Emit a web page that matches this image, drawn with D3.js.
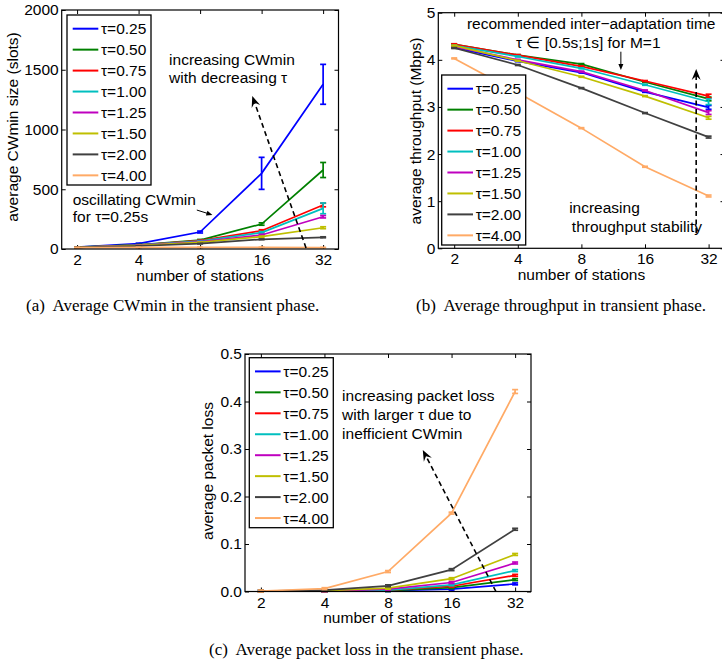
<!DOCTYPE html>
<html>
<head>
<meta charset="utf-8">
<script src="https://cdn.jsdelivr.net/npm/d3@7"></script>
<style>
  body { margin: 0; background: #fff; }
  svg { display: block; }
  .tick text { font-family: "Liberation Sans", Arial, sans-serif; font-size: 15.5px; fill: #000; }
  .lbl { font-family: "Liberation Sans", Arial, sans-serif; font-size: 15.5px; fill: #000; }
  .cap { font-family: "Liberation Serif", "Times New Roman", serif; font-size: 17px; fill: #000; }
</style>
</head>
<body>
<div class="chart"></div>
<script>
// number of stations (x axis, log2)
var stations = [2, 4, 8, 16, 32];
var tauLabels = ["τ=0.25", "τ=0.50", "τ=0.75", "τ=1.00", "τ=1.25", "τ=1.50", "τ=2.00", "τ=4.00"];
var colors = ["#0000ff", "#008000", "#ff0000", "#00bfbf", "#bf00bf", "#bfbf00", "#404040", "#ffaa66"];

// (a) average CWmin size (slots), one row per tau
var cwmin = [
  [15, 45, 142, 633, 1378],
  [15, 35, 75, 209, 661],
  [14, 33, 70, 153, 368],
  [14, 32, 66, 137, 340],
  [14, 30, 60, 117, 270],
  [13, 28, 55, 103, 178],
  [13, 25, 45, 81, 98],
  [12, 13, 13, 13, 12]
];
var cwminErr = [
  [2, 4, 8, 134, 167],
  [1, 3, 5, 10, 63],
  [1, 2, 4, 8, 15],
  [1, 2, 4, 8, 45],
  [1, 2, 3, 6, 10],
  [1, 1, 3, 5, 8],
  [1, 1, 2, 3, 4],
  [1, 1, 1, 1, 1]
];

// (b) average throughput (Mbps)
var throughput = [
  [4.26, 3.97, 3.73, 3.32, 2.99],
  [4.33, 4.10, 3.91, 3.53, 3.17],
  [4.33, 4.10, 3.86, 3.55, 3.23],
  [4.30, 4.07, 3.82, 3.47, 3.11],
  [4.28, 4.00, 3.75, 3.35, 2.88],
  [4.30, 3.98, 3.64, 3.23, 2.77],
  [4.25, 3.89, 3.40, 2.87, 2.36],
  [4.03, 3.30, 2.55, 1.73, 1.11]
];
var throughputErr = [
  [0.01, 0.01, 0.01, 0.01, 0.04],
  [0.01, 0.01, 0.01, 0.01, 0.04],
  [0.01, 0.01, 0.01, 0.01, 0.04],
  [0.01, 0.01, 0.01, 0.01, 0.06],
  [0.01, 0.01, 0.01, 0.01, 0.04],
  [0.01, 0.01, 0.01, 0.01, 0.03],
  [0.01, 0.01, 0.01, 0.01, 0.02],
  [0.01, 0.01, 0.01, 0.01, 0.02]
];

// (c) average packet loss
var packetLoss = [
  [0.001, 0.001, 0.002, 0.005, 0.016],
  [0.001, 0.001, 0.002, 0.008, 0.025],
  [0.001, 0.001, 0.003, 0.011, 0.034],
  [0.001, 0.001, 0.003, 0.014, 0.044],
  [0.001, 0.001, 0.005, 0.019, 0.060],
  [0.001, 0.002, 0.007, 0.027, 0.078],
  [0.001, 0.003, 0.012, 0.046, 0.131],
  [0.001, 0.006, 0.042, 0.165, 0.421]
];
var packetLossErr = [
  [0.002, 0.002, 0.002, 0.002, 0.002],
  [0.002, 0.002, 0.002, 0.002, 0.002],
  [0.002, 0.002, 0.002, 0.002, 0.002],
  [0.002, 0.002, 0.002, 0.002, 0.002],
  [0.002, 0.002, 0.002, 0.002, 0.002],
  [0.002, 0.002, 0.002, 0.002, 0.002],
  [0.002, 0.002, 0.002, 0.002, 0.002],
  [0.002, 0.002, 0.002, 0.002, 0.004]
];

var ticksA = [0, 500, 1000, 1500, 2000];
var ticksB = [0, 1, 2, 3, 4, 5];
var ticksC = [0, 0.1, 0.2, 0.3, 0.4, 0.5];

var svg = d3.select('.chart').append('svg')
  .attr('width', 722)
  .attr('height', 662);

// arrow head, vback2 like matlab
function arrowHead(g, x0, y0, x1, y1) {
  var a = Math.atan2(y1 - y0, x1 - x0);
  var L = 11, W = 4.5, notch = 7;
  var pts = [
    [x1, y1],
    [x1 - L * Math.cos(a) + W * Math.sin(a), y1 - L * Math.sin(a) - W * Math.cos(a)],
    [x1 - notch * Math.cos(a), y1 - notch * Math.sin(a)],
    [x1 - L * Math.cos(a) - W * Math.sin(a), y1 - L * Math.sin(a) + W * Math.cos(a)]
  ];
  g.append('path').attr('d', 'M' + pts.join('L') + 'Z').attr('fill', '#000');
}

function arrow(g, x0, y0, x1, y1, dashed, small) {
  var a = Math.atan2(y1 - y0, x1 - x0);
  var back = small ? 4 : 7;
  g.append('line')
    .attr('x1', x0).attr('y1', y0)
    .attr('x2', x1 - back * Math.cos(a)).attr('y2', y1 - back * Math.sin(a))
    .attr('stroke', '#000')
    .attr('stroke-width', small ? 1 : 1.6)
    .attr('stroke-dasharray', dashed ? '5,3.5' : null);
  if (small) {
    var L = 6, W = 2.5;
    var p = [[x1, y1],
      [x1 - L * Math.cos(a) + W * Math.sin(a), y1 - L * Math.sin(a) - W * Math.cos(a)],
      [x1 - L * Math.cos(a) - W * Math.sin(a), y1 - L * Math.sin(a) + W * Math.cos(a)]];
    g.append('path').attr('d', 'M' + p.join('L') + 'Z').attr('fill', '#000');
  } else {
    arrowHead(g, x0, y0, x1, y1);
  }
}

function drawPanel(p) {
  var g = svg.append('g');
  var x = d3.scaleLog().base(2)
    .domain([Math.pow(2, 0.75), Math.pow(2, 5.25)])
    .range([p.left, p.right]);
  var y = d3.scaleLinear().domain(p.yDomain).range([p.bottom, p.top]);

  // white plot area + frame
  g.append('rect')
    .attr('x', p.left).attr('y', p.top)
    .attr('width', p.right - p.left).attr('height', p.bottom - p.top)
    .attr('fill', '#fff');

  // axes, ticks pointing inward on all four sides
  g.append('g').attr('transform', 'translate(' + p.left + ',0)')
    .call(d3.axisLeft(y).tickValues(p.yTicks).tickFormat(p.yFormat).tickSize(-4).tickSizeOuter(0).tickPadding(3));
  g.append('g').attr('transform', 'translate(' + p.right + ',0)')
    .call(d3.axisRight(y).tickValues(p.yTicks).tickFormat('').tickSize(-4).tickSizeOuter(0));
  g.append('g').attr('transform', 'translate(0,' + p.bottom + ')')
    .call(d3.axisBottom(x).tickValues(stations).tickFormat(d3.format('d')).tickSize(-4).tickSizeOuter(0).tickPadding(5));
  g.append('g').attr('transform', 'translate(0,' + p.top + ')')
    .call(d3.axisTop(x).tickValues(stations).tickFormat('').tickSize(-4).tickSizeOuter(0));
  g.selectAll('.domain').remove();
  g.selectAll('.tick line').attr('stroke', '#000').attr('stroke-width', 1);

  // series
  var line = d3.line().x((d, i) => x(stations[i])).y(d => y(d));
  p.data.forEach(function (row, k) {
    g.append('path')
      .datum(row)
      .attr('d', line)
      .attr('fill', 'none')
      .attr('stroke', colors[k])
      .attr('stroke-width', 1.7);
    // error bars
    row.forEach(function (v, i) {
      var e = p.err[k][i];
      var cx = x(stations[i]);
      var eg = g.append('g').attr('stroke', colors[k]).attr('stroke-width', 1.7);
      eg.append('line').attr('x1', cx).attr('x2', cx).attr('y1', y(v - e)).attr('y2', y(v + e));
      eg.append('line').attr('x1', cx - 3).attr('x2', cx + 3).attr('y1', y(v - e)).attr('y2', y(v - e));
      eg.append('line').attr('x1', cx - 3).attr('x2', cx + 3).attr('y1', y(v + e)).attr('y2', y(v + e));
    });
  });

  g.append('rect')
    .attr('x', p.left).attr('y', p.top)
    .attr('width', p.right - p.left).attr('height', p.bottom - p.top)
    .attr('fill', 'none').attr('stroke', '#000').attr('stroke-width', 1.2);

  // annotations
  p.notes.forEach(function (n) {
    g.append('text').attr('class', 'lbl')
      .attr('x', x(n.x)).attr('y', y(n.y))
      .attr('text-anchor', n.anchor || 'start')
      .text(n.text);
  });
  p.arrows.forEach(function (a) {
    arrow(g, x(a.x0), y(a.y0), x(a.x1), y(a.y1), a.dashed, a.small);
  });

  // legend
  var lg = g.append('g').attr('transform', 'translate(' + p.legend[0] + ',' + p.legend[1] + ')');
  lg.append('rect').attr('width', 84).attr('height', 170)
    .attr('fill', '#fff').attr('stroke', '#000').attr('stroke-width', 1.3);
  tauLabels.forEach(function (t, k) {
    var cy = 13.7 + k * 20.95;
    lg.append('line').attr('x1', 5.7).attr('x2', 31.3).attr('y1', cy).attr('y2', cy)
      .attr('stroke', colors[k]).attr('stroke-width', 2);
    lg.append('text').attr('class', 'lbl').attr('x', 34).attr('y', cy).attr('dy', '0.36em').text(t);
  });

  // axis labels
  g.append('text').attr('class', 'lbl')
    .attr('x', (p.left + p.right) / 2 + p.xLabelShift).attr('y', p.xLabelY)
    .attr('text-anchor', 'middle').text('number of stations');
  g.append('text').attr('class', 'lbl')
    .attr('transform', 'translate(' + p.yLabelX + ',' + p.yLabelY + ') rotate(-90)')
    .attr('text-anchor', 'middle').text(p.yLabel);

  g.append('text').attr('class', 'cap')
    .attr('x', p.capX).attr('y', p.capY)
    .attr('xml:space', 'preserve')
    .text(p.caption);
}

drawPanel({
  left: 61.7, right: 338.5, top: 10, bottom: 249,
  yDomain: [0, 2000], yTicks: ticksA, yFormat: d3.format('d'),
  data: cwmin, err: cwminErr,
  legend: [67, 15],
  xLabelY: 281, xLabelShift: 0,
  yLabelX: 17.5, yLabelY: 127, yLabel: 'average CWmin size (slots)',
  capX: 26, capY: 311, caption: '(a)  Average CWmin in the transient phase.',
  notes: [
    {x: 5.64, y: 1540, text: 'increasing CWmin'},
    {x: 5.64, y: 1392, text: 'with decreasing τ'},
    {x: 1.905, y: 368, text: 'oscillating CWmin'},
    {x: 1.905, y: 226, text: 'for τ=0.25s'}
  ],
  arrows: [
    {x0: 26.4, y0: 8, x1: 14.4, y1: 1280, dashed: true},
    {x0: 7.71, y0: 326, x1: 9.19, y1: 285, small: true}
  ]
});

drawPanel({
  left: 438.3, right: 724.5, top: 12.7, bottom: 248.3,
  yDomain: [0, 5], yTicks: ticksB, yFormat: d3.format('d'),
  data: throughput, err: throughputErr,
  legend: [441.7, 75],
  xLabelY: 280, xLabelShift: 0,
  yLabelX: 421, yLabelY: 131, yLabel: 'average throughput (Mbps)',
  capX: 416, capY: 311, caption: '(b)  Average throughput in transient phase.',
  notes: [
    {x: 8.9, y: 4.654, text: 'recommended inter\u2212adaptation time', anchor: 'middle'},
    {x: 8.62, y: 4.245, text: 'τ ∈ [0.5s;1s] for M=1', anchor: 'middle'},
    {x: 7.0, y: 0.749, text: 'increasing'},
    {x: 7.21, y: 0.352, text: 'throughput stability'}
  ],
  arrows: [
    {x0: 27.95, y0: 0.325, x1: 27.95, y1: 3.805, dashed: true},
    {x0: 12.3, y0: 4.172, x1: 12.3, y1: 3.784, small: true}
  ]
});

drawPanel({
  left: 245, right: 531, top: 354, bottom: 591.5,
  yDomain: [0, 0.5], yTicks: ticksC, yFormat: d3.format('.1f'),
  data: packetLoss, err: packetLossErr,
  legend: [249.3, 357.7],
  xLabelY: 623, xLabelShift: -1,
  yLabelX: 212.7, yLabelY: 471, yLabel: 'average packet loss',
  capX: 209, capY: 655, caption: '(c)  Average packet loss in the transient phase.',
  notes: [
    {x: 4.85, y: 0.4017, text: 'increasing packet loss'},
    {x: 4.85, y: 0.361, text: 'with larger τ due to'},
    {x: 4.85, y: 0.321, text: 'inefficient CWmin'}
  ],
  arrows: [
    {x0: 25.96, y0: 0, x1: 11.69, y1: 0.298, dashed: true}
  ]
});
</script>
</body>
</html>
